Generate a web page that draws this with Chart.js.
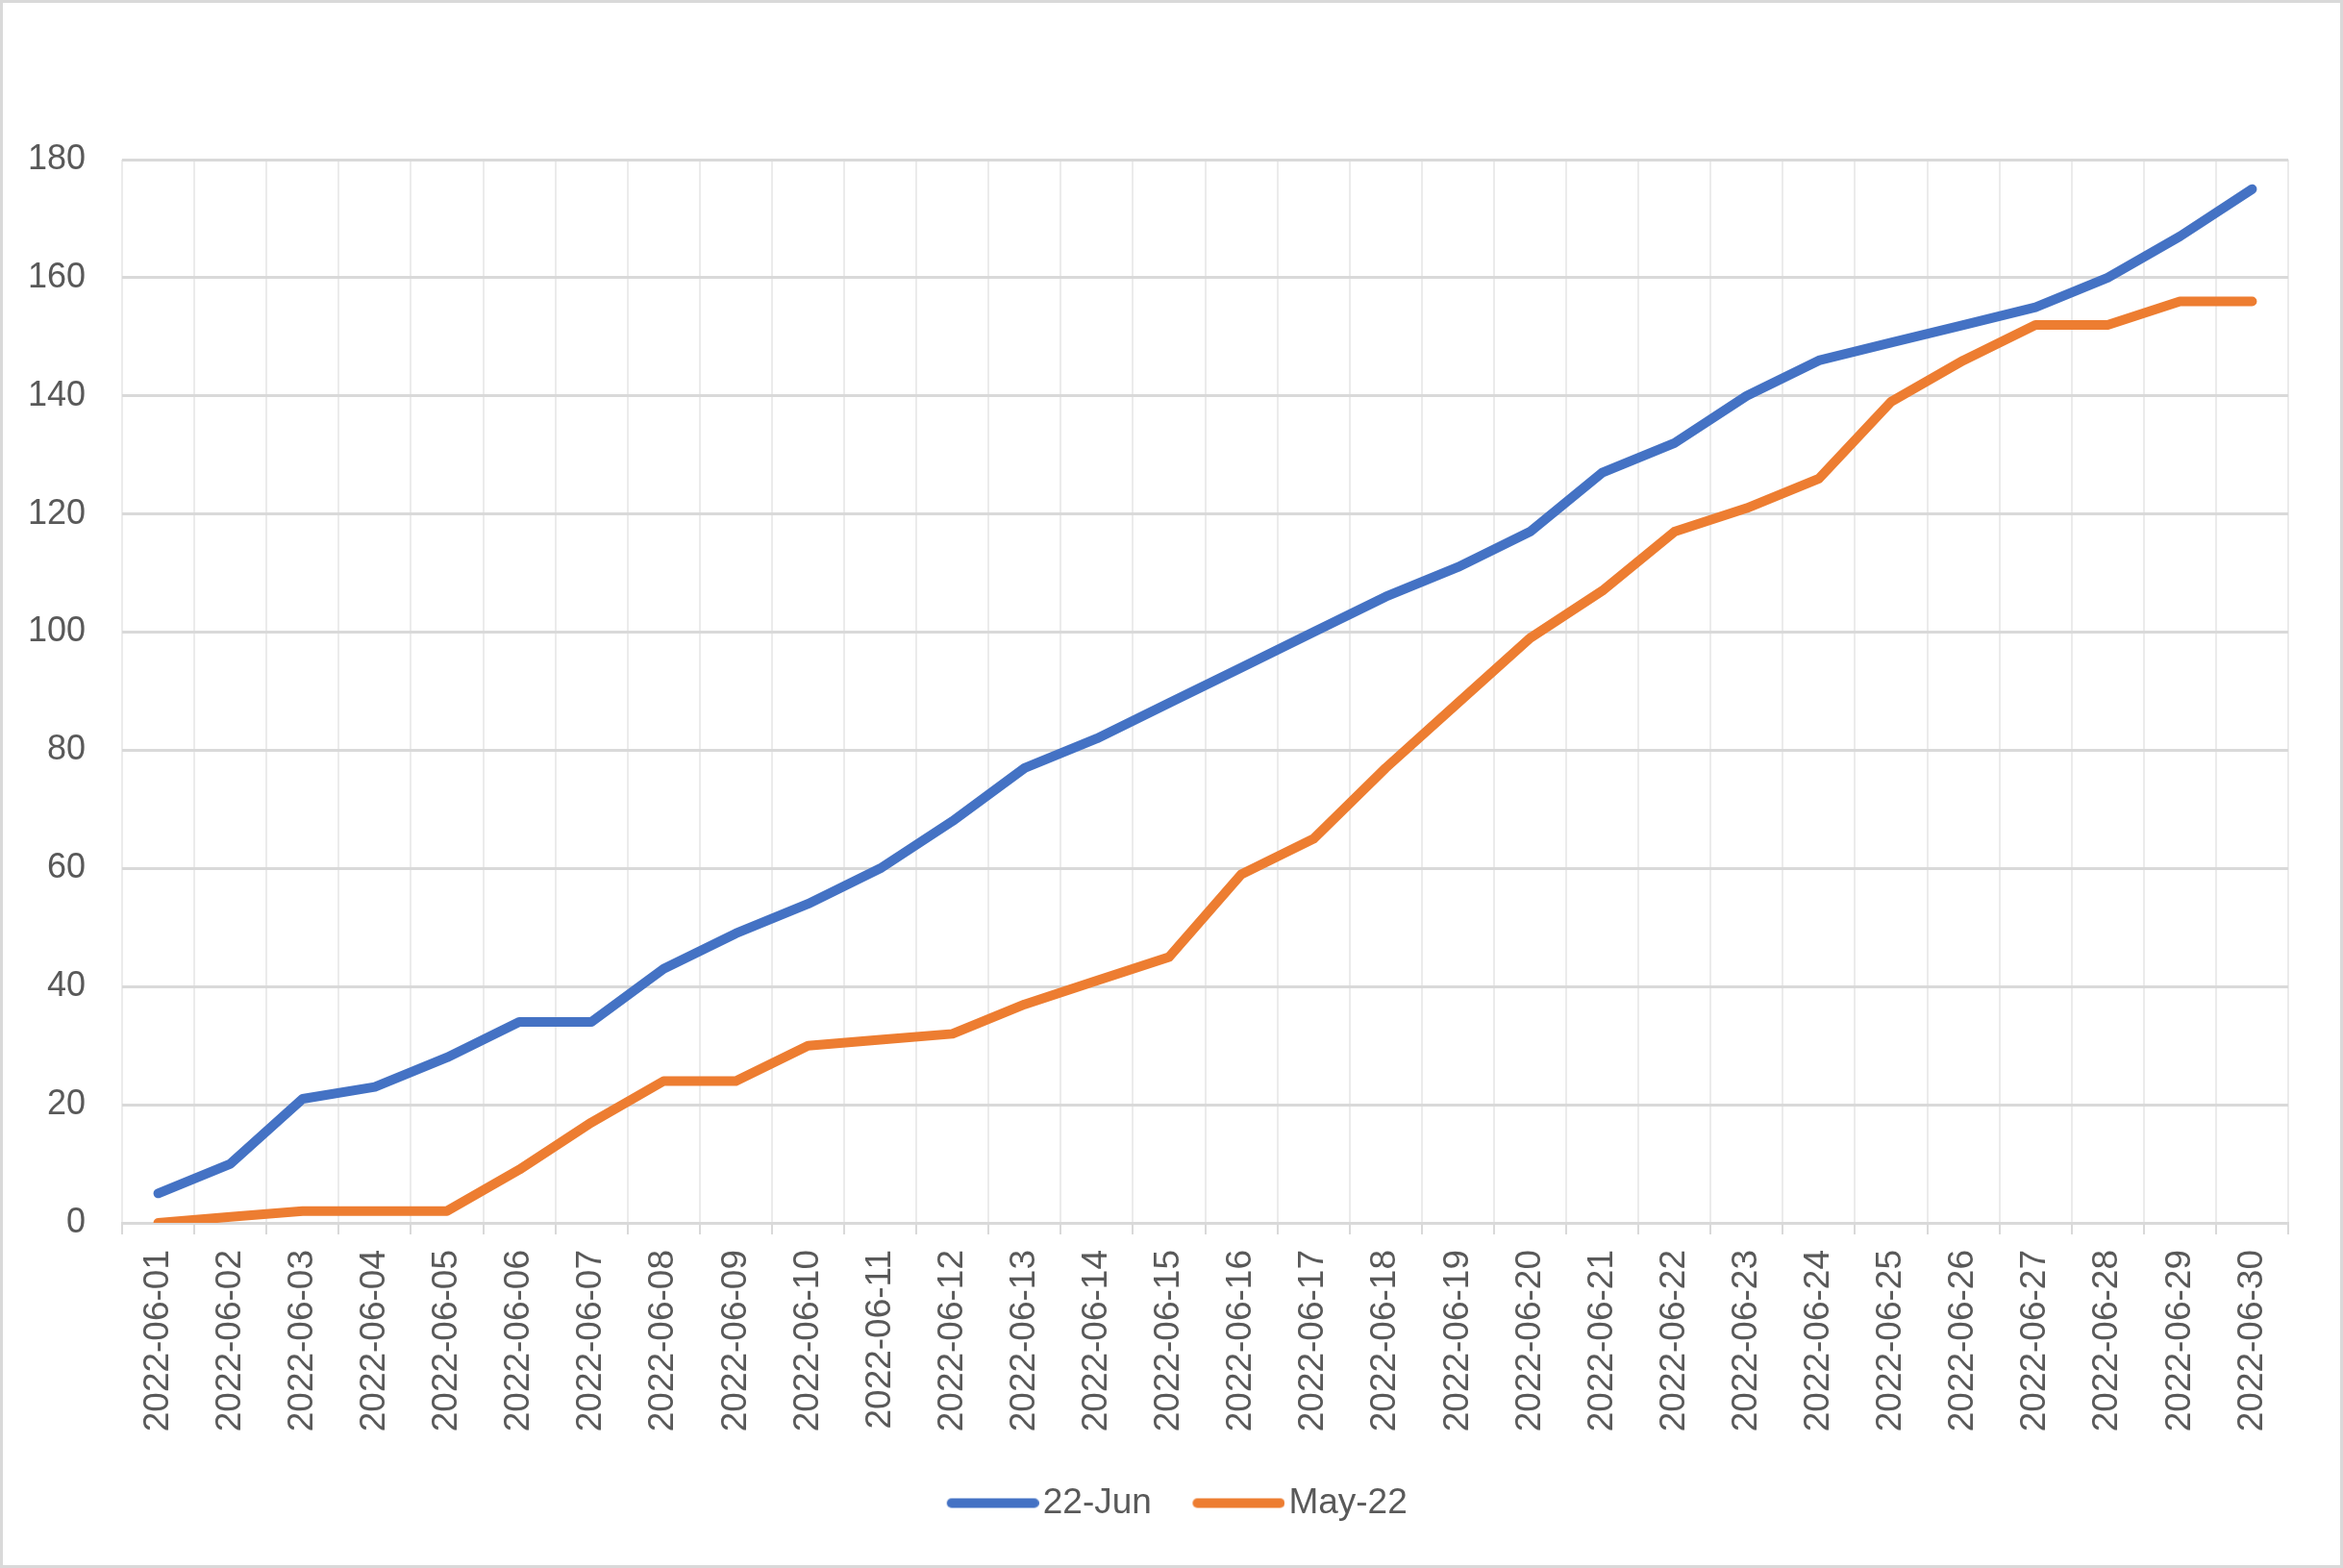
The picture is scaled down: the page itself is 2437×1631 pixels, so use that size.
<!DOCTYPE html>
<html>
<head>
<meta charset="utf-8">
<script src="https://cdn.jsdelivr.net/npm/chart.js@4/dist/chart.umd.min.js"></script>
<style>
  html, body { margin: 0; padding: 0; background: #ffffff; }
  #wrap { width: 2437px; height: 1631px; position: relative; }
  canvas { display: block; }
</style>
</head>
<body>
<div id="wrap"><canvas id="c" width="2437" height="1631"></canvas></div>
<script>
const categories = [
  "2022-06-01","2022-06-02","2022-06-03","2022-06-04","2022-06-05","2022-06-06",
  "2022-06-07","2022-06-08","2022-06-09","2022-06-10","2022-06-11","2022-06-12",
  "2022-06-13","2022-06-14","2022-06-15","2022-06-16","2022-06-17","2022-06-18",
  "2022-06-19","2022-06-20","2022-06-21","2022-06-22","2022-06-23","2022-06-24",
  "2022-06-25","2022-06-26","2022-06-27","2022-06-28","2022-06-29","2022-06-30"
];
const seriesNames = ["22-Jun", "May-22"];
const junValues = [5,10,21,23,28,34,34,43,49,54,60,68,77,82,88,94,100,106,111,117,127,132,140,146,149,152,155,160,167,175];
const mayValues = [0,1,2,2,2,9,17,24,24,30,31,32,37,41,45,59,65,77,88,99,107,117,121,126,139,146,152,152,156,156];
const yTicks = [0,20,40,60,80,100,120,140,160,180];
const seriesColors = ['#4472C4', '#ED7D31'];

const FONT = "'Liberation Sans', Arial, sans-serif";
const TEXT = "#595959";

// legend line symbol, drawn so it sits close to the label text (Excel style)
function legendSymbol(color) {
  const c = document.createElement('canvas');
  c.width = 109; c.height = 12;
  const g = c.getContext('2d');
  g.strokeStyle = color;
  g.lineWidth = 10;
  g.lineCap = 'round';
  g.beginPath();
  g.moveTo(18, 6);
  g.lineTo(104, 6);
  g.stroke();
  return c;
}

const borderPlugin = {
  id: 'outerBorder',
  afterLayout(chart) {
    // centre the legend on the whole canvas, not just the padded area
    if (chart.legend) { chart.legend.left += 35; chart.legend.right += 35; }
  },
  afterDraw(chart) {
    const ctx = chart.ctx;
    ctx.save();
    ctx.strokeStyle = '#d9d9d9';
    ctx.lineWidth = 3;
    ctx.strokeRect(1.5, 1.5, chart.width - 3, chart.height - 3);
    ctx.restore();
  }
};

new Chart(document.getElementById('c'), {
  type: 'line',
  data: {
    labels: categories,
    datasets: [
      { label: seriesNames[0], data: junValues, borderColor: seriesColors[0], backgroundColor: seriesColors[0],
        borderWidth: 10, pointRadius: 0, tension: 0, borderCapStyle: 'round', borderJoinStyle: 'round' },
      { label: seriesNames[1], data: mayValues, borderColor: seriesColors[1], backgroundColor: seriesColors[1],
        borderWidth: 10, pointRadius: 0, tension: 0, borderCapStyle: 'round', borderJoinStyle: 'round' }
    ]
  },
  options: {
    responsive: false,
    animation: false,
    devicePixelRatio: 1,
    layout: { padding: { top: 166, right: 57, bottom: 39, left: 0 } },
    plugins: {
      tooltip: { enabled: false },
      legend: {
        position: 'bottom',
        labels: {
          font: { family: FONT, size: 37 },
          color: TEXT,
          usePointStyle: true,
          pointStyleWidth: 80,
          boxHeight: 10,
          padding: 44,
          generateLabels(chart) {
            return chart.data.datasets.map((ds, i) => ({
              text: ds.label,
              fillStyle: ds.borderColor,
              strokeStyle: ds.borderColor,
              lineWidth: 0,
              pointStyle: legendSymbol(ds.borderColor),
              fontColor: TEXT,
              hidden: false,
              datasetIndex: i
            }));
          }
        }
      }
    },
    scales: {
      x: {
        type: 'category',
        offset: true,
        grid: { offset: true, color: '#ebebeb', lineWidth: 2, tickLength: 12, tickColor: '#d9d9d9', tickWidth: 2 },
        border: { display: true, color: '#d9d9d9', width: 3 },
        ticks: { font: { family: FONT, size: 37 }, color: TEXT, minRotation: 90, maxRotation: 90, padding: 16, autoSkip: false },
        afterFit(scale) { scale.height = 229; }
      },
      y: {
        min: 0, max: 180,
        afterBuildTicks(scale) { scale.ticks = yTicks.map(v => ({ value: v })); },
        grid: { color: '#d9d9d9', lineWidth: 3, drawTicks: false },
        border: { display: false },
        ticks: { font: { family: FONT, size: 36 }, color: TEXT, padding: 38 },
        afterFit(scale) { scale.width = 127; }
      }
    }
  },
  plugins: [borderPlugin]
});
</script>
</body>
</html>
